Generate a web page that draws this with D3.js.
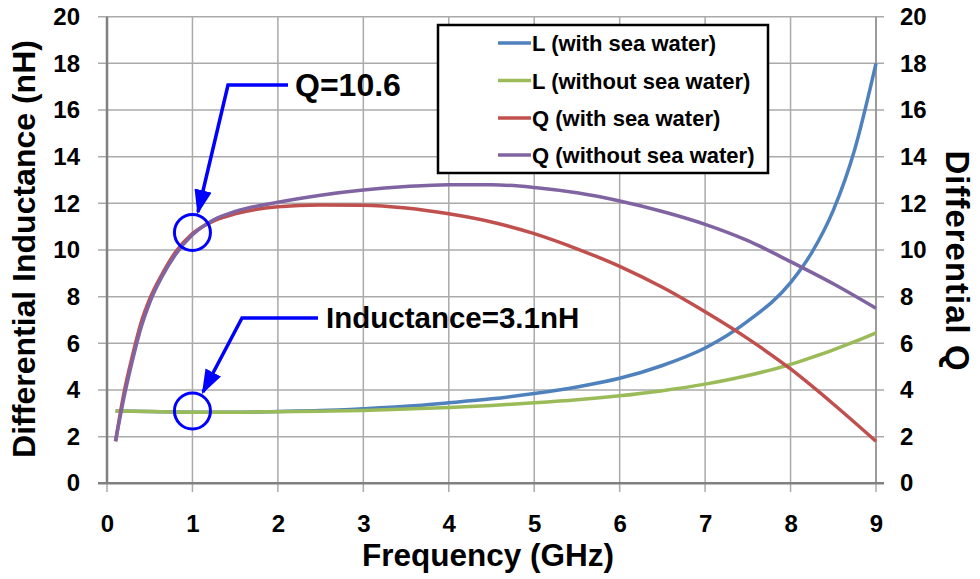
<!DOCTYPE html>
<html><head><meta charset="utf-8">
<script src="https://cdn.jsdelivr.net/npm/d3@7"></script>
<style>body{margin:0;background:#fff}svg{display:block}text{font-family:"Liberation Sans",Arial,sans-serif;font-weight:bold;fill:#000}</style>
</head><body><svg id="c" width="980" height="579"></svg>
<script>
const freqL = [0.1, 0.5, 1, 1.5, 2, 2.5, 3, 3.5, 4, 4.5, 5, 5.5, 6, 6.5, 7, 7.5, 8, 8.25, 8.5, 8.75, 9];
const lWith = [3.1, 3.08, 3.05, 3.05, 3.08, 3.12, 3.2, 3.3, 3.45, 3.62, 3.85, 4.13, 4.5, 5.05, 5.8, 6.95, 8.6, 9.9, 11.7, 14.3, 18.0];
const lWithout = [3.1, 3.08, 3.05, 3.05, 3.07, 3.09, 3.12, 3.18, 3.25, 3.34, 3.45, 3.58, 3.75, 3.97, 4.25, 4.62, 5.1, 5.4, 5.72, 6.07, 6.45];
const freqQ = [0.1, 0.2, 0.3, 0.4, 0.5, 0.65, 0.8, 1, 1.25, 1.5, 2, 2.5, 3, 3.5, 4, 4.5, 5, 5.5, 6, 6.5, 7, 7.5, 8, 8.5, 9];
const qWith = [1.8, 3.9, 5.5, 6.9, 7.9, 9.0, 9.9, 10.7, 11.25, 11.55, 11.85, 11.93, 11.92, 11.8, 11.55, 11.2, 10.7, 10.05, 9.3, 8.4, 7.35, 6.2, 4.9, 3.4, 1.8];
const qWithout = [1.8, 3.7, 5.3, 6.7, 7.75, 8.9, 9.8, 10.65, 11.3, 11.65, 12.05, 12.35, 12.57, 12.72, 12.8, 12.8, 12.68, 12.45, 12.1, 11.65, 11.1, 10.4, 9.5, 8.55, 7.5];
const xTicks = [0,1,2,3,4,5,6,7,8,9];
const yTicks = [0,2,4,6,8,10,12,14,16,18,20];
const seriesNames = ["L (with sea water)","L (without sea water)","Q (with sea water)","Q (without sea water)"];
const seriesColors = ["#4f81bd","#9bbb59","#c0504d","#8064a2"];

const svg = d3.select("#c");
const x = d3.scaleLinear().domain([0,9]).range([107,876]);
const yL = d3.scaleLinear().domain([0,20]).range([483.3,16.7]);
const yR = d3.scaleLinear().domain([0,20]).range([483.3,16.7]);

// gridlines
const g = svg.append("g");
g.selectAll(".hg").data(yTicks).join("line")
 .attr("x1",98).attr("x2",884).attr("y1",d=>yL(d)).attr("y2",d=>yL(d))
 .attr("stroke","#aaa").attr("stroke-width",1.5);
g.selectAll(".vg").data(xTicks).join("line")
 .attr("x1",d=>x(d)).attr("x2",d=>x(d)).attr("y1",yL(20)).attr("y2",492)
 .attr("stroke","#aaa").attr("stroke-width",1.5);
// axis lines
svg.append("line").attr("x1",x(0)).attr("x2",x(0)).attr("y1",yL(20)).attr("y2",yL(0)).attr("stroke","#808080").attr("stroke-width",2.5);
svg.append("line").attr("x1",x(9)).attr("x2",x(9)).attr("y1",yL(20)).attr("y2",yL(0)).attr("stroke","#909090").attr("stroke-width",1.5);
svg.append("line").attr("x1",98).attr("x2",884).attr("y1",yL(0)).attr("y2",yL(0)).attr("stroke","#808080").attr("stroke-width",2.5);

// axes (labels via d3 axis)
const axB = svg.append("g").attr("transform",`translate(0,${yL(0)})`)
 .call(d3.axisBottom(x).tickValues(xTicks).tickSize(0).tickPadding(32).tickFormat(d3.format("d")));
const axL = svg.append("g").attr("transform",`translate(${x(0)},0)`)
 .call(d3.axisLeft(yL).tickValues(yTicks).tickSize(0).tickPadding(27).tickFormat(d3.format("d")));
const axR = svg.append("g").attr("transform",`translate(${x(9)},0)`)
 .call(d3.axisRight(yR).tickValues(yTicks).tickSize(0).tickPadding(24).tickFormat(d3.format("d")));
[axB,axL,axR].forEach(a=>{a.select(".domain").remove();a.selectAll("text").attr("font-size",24).attr("font-family","Liberation Sans, Arial, sans-serif").attr("font-weight","bold").attr("fill","#000");});
axB.selectAll("text").attr("dy",null).attr("y",49);

// lines
const mk = (xs,ys)=>xs.map((f,i)=>[f,ys[i]]);
const data = [mk(freqL,lWith), mk(freqL,lWithout), mk(freqQ,qWith), mk(freqQ,qWithout)];
const scales = [yL,yL,yR,yR];
data.forEach((d,i)=>{
 const line = d3.line().x(p=>x(p[0])).y(p=>scales[i](p[1])).curve(d3.curveMonotoneX);
 svg.append("path").attr("d",line(d)).attr("fill","none").attr("stroke",seriesColors[i]).attr("stroke-width",3.5);
});

// legend
const lg = svg.append("g");
lg.append("rect").attr("x",438).attr("y",25).attr("width",330).attr("height",148).attr("fill","#fff").attr("stroke","#000").attr("stroke-width",2.5);
const rows = [43,80.5,118,155];
seriesNames.forEach((n,i)=>{
 lg.append("line").attr("x1",498).attr("x2",531).attr("y1",rows[i]).attr("y2",rows[i]).attr("stroke",seriesColors[i]).attr("stroke-width",3.5);
 lg.append("text").attr("x",532).attr("y",rows[i]+8).attr("font-size",22).text(n);
});

// axis titles
svg.append("text").attr("transform",`translate(35,249) rotate(-90)`).attr("text-anchor","middle").attr("font-size",32).text("Differential Inductance (nH)");
svg.append("text").attr("transform",`translate(946,261) rotate(90)`).attr("text-anchor","middle").attr("font-size",33).attr("letter-spacing",1).text("Differential Q");
svg.append("text").attr("x",488).attr("y",566).attr("text-anchor","middle").attr("font-size",31.5).text("Frequency (GHz)");

// annotations
const blue = "#0000ff";
const defs = svg.append("defs");
defs.append("marker").attr("id","ah").attr("viewBox","0 0 10 10").attr("refX",9).attr("refY",5)
 .attr("markerWidth",7).attr("markerHeight",5).attr("orient","auto").attr("markerUnits","strokeWidth")
 .attr("preserveAspectRatio","none")
 .append("path").attr("d","M0,0 L10,5 L0,10 Z").attr("fill",blue);
const ann = [
 {fx:1, fy:10.75, text:"Q=10.6", size:32, tx:295, ty:96, pts:[[288,85],[228,85],[198,212]]},
 {fx:1, fy:3.1, text:"Inductance=3.1nH", size:29.5, tx:326, ty:328, pts:[[318,318],[242,318],[203,392]]}
];
ann.forEach(a=>{
 svg.append("circle").attr("cx",x(a.fx)).attr("cy",yL(a.fy)).attr("r",18).attr("fill","none").attr("stroke",blue).attr("stroke-width",3);
 svg.append("path").attr("d",d3.line()(a.pts)).attr("fill","none").attr("stroke",blue).attr("stroke-width",3.5).attr("marker-end","url(#ah)");
 svg.append("text").attr("x",a.tx).attr("y",a.ty).attr("font-size",a.size).text(a.text);
});
</script></body></html>
